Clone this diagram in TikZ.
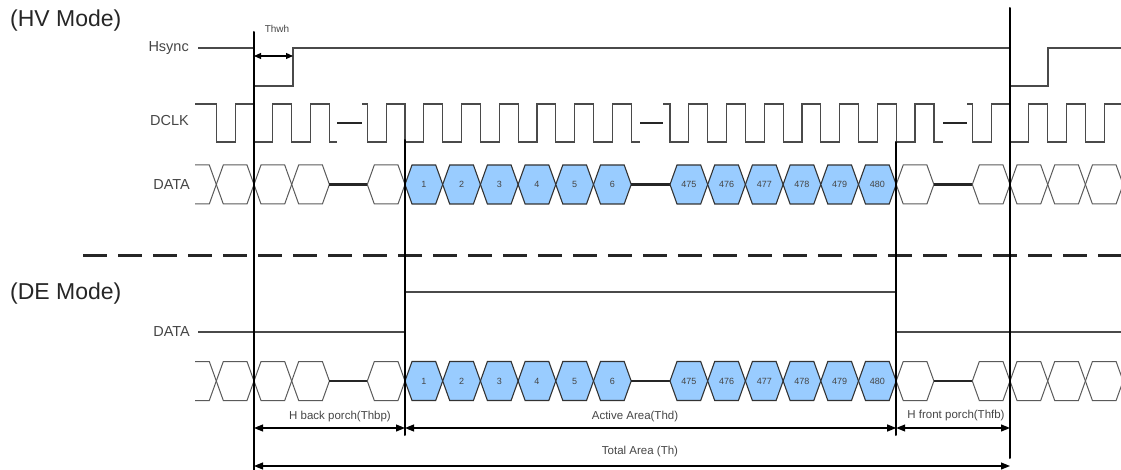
\documentclass[tikz,border=0pt]{standalone}
\usepackage{fontspec}
\setmainfont{Liberation Sans}
\usepackage{tkz-euclide}
\usetikzlibrary{arrows.meta}

\definecolor{sig}{HTML}{4A4A4A}
\definecolor{labelgray}{HTML}{454545}
\definecolor{cellline}{HTML}{5A5A5A}
\definecolor{cellblue}{HTML}{99CCFF}

% one bus cell: left x, right x, mid y, style
\newcommand{\datacell}[4]{%
  \draw[#4] (#1,#3) -- (#1+7,#3-19.5) -- (#2-7,#3-19.5) -- (#2,#3)
    -- (#2-7,#3+19.5) -- (#1+7,#3+19.5) -- cycle;}

\tikzset{
  wave/.style={draw=sig, line width=1.2pt},
  celloff/.style={draw=cellline, line width=1pt},
  cellon/.style={draw=black!80, fill=cellblue, line width=1.1pt},
  gapline/.style={draw=black!85, line width=2.4pt},
  vline/.style={draw=black, line width=2pt},
  dimarrow/.style={line width=1.1pt,
    {Triangle[length=9pt,width=7pt]}-{Triangle[length=9pt,width=7pt]}},
  siglabel/.style={anchor=east, inner sep=0pt, text=labelgray,
    font=\fontsize{14.5}{17}\selectfont},
  dimlabel/.style={inner sep=0pt, text=labelgray,
    font=\fontsize{11.5}{14}\selectfont},
  celltext/.style={inner sep=0pt, text=labelgray,
    font=\fontsize{9}{10}\selectfont},
  modelabel/.style={anchor=west, inner sep=0pt, text=black!85,
    font=\fontsize{23}{27}\selectfont}
}

\begin{document}
\begin{tikzpicture}[x=1pt,y=-1pt]
                    \clip (0,0) rectangle (1121,470);

                    % mode titles and separator
                    \node[modelabel] (hvmode) at (10,21) {(HV Mode)};
                    \node[modelabel] (demode) at (10,294) {(DE Mode)};
                    \draw[black!85, line width=3pt, dash pattern=on 24pt off 11pt] (83,256) -- (1121,256);

                    % signal names
                    \node[siglabel] (hsync) at (189,48) {Hsync};
                    \node[siglabel] (dclk) at (189,121) {DCLK};
                    \node[siglabel] (hvdata) at (190,185) {DATA};
                    \node[siglabel] (dedata) at (190,332) {DATA};

                    % Hsync
                    \draw[wave] (198,48) -- (254,48) -- (254,86) -- (293,86) -- (293,48)
                      -- (1010,48) -- (1010,86) -- (1048,86) -- (1048,48) -- (1121,48);

                    % DCLK
                    \draw[wave] (195,104) foreach \f in {216.3,254,291.7}
                      { -- (\f,104) -- (\f,142) -- (\f+18.85,142) -- (\f+18.85,104) }
                      -- (329.4,104) -- (329.4,142) -- (337,142);
                    \draw[wave] (362,104) foreach \f in {367.3,405,442.7,480.4,518.1,555.8,593.5}
                      { -- (\f,104) -- (\f,142) -- (\f+18.85,142) -- (\f+18.85,104) }
                      -- (631.2,104) -- (631.2,142) -- (640,142);
                    \draw[wave] (663,104) foreach \f in {670,707.7,745.4,783.1,820.8,858.5,896.2}
                      { -- (\f,104) -- (\f,142) -- (\f+18.85,142) -- (\f+18.85,104) }
                      -- (933.9,104) -- (933.9,142) -- (943,142);
                    \draw[wave] (967,104) foreach \f in {972.3,1010,1047.7,1085.4}
                      { -- (\f,104) -- (\f,142) -- (\f+18.85,142) -- (\f+18.85,104) }
                      -- (1121,104);
                    \draw[gapline] (337,123) -- (362,123);
                    \draw[gapline] (640,123) -- (663,123);
                    \draw[gapline] (943,123) -- (967,123);

                    % DATA buses (HV and DE)
                    \foreach \m/\tag in {184.5/hv,381/de}{
                      \draw[celloff] (195,\m-19.5) -- (209.3,\m-19.5) -- (216.3,\m)
                        -- (209.3,\m+19.5) -- (195,\m+19.5);
                      \datacell{216.3}{254}{\m}{celloff}
                      \datacell{254}{291.7}{\m}{celloff}
                      \datacell{291.7}{329.4}{\m}{celloff}
                      \draw[gapline] (329.4,\m) -- (367.3,\m);
                      \datacell{367.3}{405}{\m}{celloff}
                      \foreach \n [count=\k from 0] in {1,...,6}{
                        \datacell{405+37.7*\k}{442.7+37.7*\k}{\m}{cellon}
                        \node[celltext] (\tag\n) at (423.85+37.7*\k,\m) {\n};
                      }
                      \draw[gapline] (631.2,\m) -- (670,\m);
                      \foreach \n [count=\k from 0] in {475,...,480}{
                        \datacell{670+37.7*\k}{707.7+37.7*\k}{\m}{cellon}
                        \node[celltext] (\tag\n) at (688.85+37.7*\k,\m) {\n};
                      }
                      \datacell{896.2}{933.9}{\m}{celloff}
                      \draw[gapline] (933.9,\m) -- (972.3,\m);
                      \datacell{972.3}{1010}{\m}{celloff}
                      \datacell{1010}{1047.7}{\m}{celloff}
                      \datacell{1047.7}{1085.4}{\m}{celloff}
                      \datacell{1085.4}{1123.1}{\m}{celloff}
                    }

                    % DE signal
                    \draw[wave] (198,332) -- (405,332) -- (405,292) -- (896.2,292)
                      -- (896.2,332) -- (1121,332);

                    % timing marks
                    \tkzDefPoint(254,32){V1t}
                    \tkzDefPoint(254,470){V1b}
                    \tkzDefPoint(405,140){V2t}
                    \tkzDefPoint(405,435){V2b}
                    \tkzDefPoint(896.2,142){V3t}
                    \tkzDefPoint(896.2,435){V3b}
                    \tkzDefPoint(1010,8){V4t}
                    \tkzDefPoint(1010,458){V4b}
                    \tkzDrawSegments[vline](V1t,V1b V2t,V2b V3t,V3b V4t,V4b)

                    % Thwh
                    \tkzDefPoint(254,56){W1}
                    \tkzDefPoint(293,56){W2}
                    \draw[line width=1.1pt, {Triangle[length=7pt,width=6pt]}-{Triangle[length=7pt,width=6pt]}] (W1) -- (W2);
                    \node[dimlabel, font=\fontsize{10}{12}\selectfont] (thwh) at (277,29) {Thwh};

                    % periods
                    \tkzDefPoint(254,428){A1}
                    \tkzDefPoint(405,428){A2}
                    \tkzDefPoint(896.2,428){A3}
                    \tkzDefPoint(1010,428){A4}
                    \draw[dimarrow] (A1) -- (A2);
                    \draw[dimarrow] (A2) -- (A3);
                    \draw[dimarrow] (A3) -- (A4);
                    \tkzDefPoint(254,466){T1}
                    \tkzDefPoint(1010,466){T2}
                    \draw[dimarrow] (T1) -- (T2);

                    \node[dimlabel] (thbp) at (340,417) {H back porch(Thbp)};
                    \node[dimlabel] (thd) at (635,417) {Active Area(Thd)};
                    \node[dimlabel] (thfb) at (956,416) {H front porch(Thfb)};
                    \node[dimlabel] (th) at (640,452) {Total Area (Th)};
\end{tikzpicture}
\end{document}
